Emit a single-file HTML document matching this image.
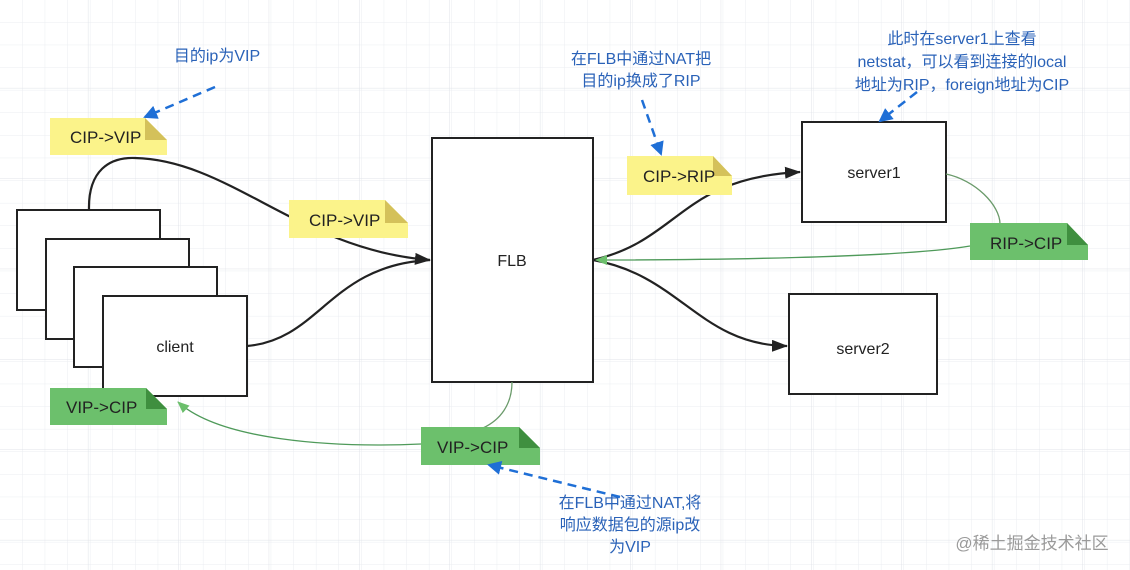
<!DOCTYPE html>
<html><head><meta charset="utf-8"><style>
html,body{margin:0;padding:0;background:#fff}
svg{display:block}
text{font-family:"Liberation Sans","Noto Sans CJK SC",sans-serif}
</style></head><body>
<svg width="1130" height="570" viewBox="0 0 1130 570" xmlns="http://www.w3.org/2000/svg">
<defs>
<pattern id="g" width="22.6" height="22.6" patternUnits="userSpaceOnUse"><path d="M22.6 0V22.6H0" fill="none" stroke="#ebedf1" stroke-width="1"/></pattern>
<pattern id="G" width="90.4" height="90.4" patternUnits="userSpaceOnUse" x="-2" y="-2"><path d="M90.4 0V90.4H0" fill="none" stroke="#e0e3e8" stroke-width="1"/></pattern>
<marker id="ab" markerWidth="16" markerHeight="12" refX="15" refY="6" orient="auto" markerUnits="userSpaceOnUse"><path d="M0 0L16 6L0 12z" fill="#222"/></marker>
<marker id="ag" markerWidth="12" markerHeight="10" refX="11" refY="5" orient="auto" markerUnits="userSpaceOnUse"><path d="M0 0L12 5L0 10z" fill="#6cbf6c"/></marker>
<marker id="au" markerWidth="14" markerHeight="14" refX="12" refY="7" orient="auto" markerUnits="userSpaceOnUse"><path d="M0 0L14 7L0 14z" fill="#1f6fd6"/></marker>
</defs>
<rect width="1130" height="570" fill="url(#g)"/>
<rect width="1130" height="570" fill="url(#G)"/>

<g fill="#fff" stroke="#222" stroke-width="2">
<rect x="17" y="210" width="143" height="100"/>
<rect x="46" y="239" width="143" height="100"/>
<rect x="74" y="267" width="143" height="100"/>
<rect x="103" y="296" width="144" height="100"/>
<rect x="432" y="138" width="161" height="244"/>
<rect x="802" y="122" width="144" height="100"/>
<rect x="789" y="294" width="148" height="100"/>
</g>
<g font-size="16" fill="#222" text-anchor="middle">
<text x="175" y="352">client</text>
<text x="512" y="266">FLB</text>
<text x="874" y="178">server1</text>
<text x="863" y="354">server2</text>
</g>

<g fill="none" stroke="#222" stroke-width="2.2">
<path d="M89 210C88 170 110 157 135 158C230 160 300 250 430 260" marker-end="url(#ab)"/>
<path d="M247 346C320 340 330 265 430 260"/>
<path d="M593 260C680 240 680 178 800 172" marker-end="url(#ab)"/>
<path d="M593 260C680 275 700 345 787 346" marker-end="url(#ab)"/>
</g>
<g fill="none" stroke="#6a9a6a" stroke-width="1.3">
<path d="M946 174C975 180 1000 205 1000 224"/>
<path d="M970 246C900 258 700 260 596 260" stroke="#4f9a5a" marker-end="url(#ag)"/>
<path d="M512 382C512 405 500 420 483 428"/>
<path d="M421 444C330 448 220 440 178 402" stroke="#4f9a5a" marker-end="url(#ag)"/>
</g>

<g font-size="17" fill="#222">
<g><path d="M50 118H145L167 140V155H50z" fill="#fbf38a"/><path d="M145 118L167 140H145z" fill="#d4c15a"/><text x="70" y="143">CIP-&gt;VIP</text></g>
<g><path d="M289 200H385L408 223V238H289z" fill="#fbf38a"/><path d="M385 200L408 223H385z" fill="#d4c15a"/><text x="309" y="226">CIP-&gt;VIP</text></g>
<g><path d="M627 156H713L732 176V195H627z" fill="#fbf38a"/><path d="M713 156L732 176H713z" fill="#d4c15a"/><text x="643" y="182">CIP-&gt;RIP</text></g>
<g><path d="M970 223H1067L1088 245V260H970z" fill="#6cc06c"/><path d="M1067 223L1088 245H1067z" fill="#3f8f3f"/><text x="990" y="249">RIP-&gt;CIP</text></g>
<g><path d="M50 388H146L167 409V425H50z" fill="#6cc06c"/><path d="M146 388L167 409H146z" fill="#3f8f3f"/><text x="66" y="413">VIP-&gt;CIP</text></g>
<g><path d="M421 427H519L540 448V465H421z" fill="#6cc06c"/><path d="M519 427L540 448H519z" fill="#3f8f3f"/><text x="437" y="453">VIP-&gt;CIP</text></g>
</g>

<g fill="none" stroke="#1f6fd6" stroke-width="2.5" stroke-dasharray="9,6">
<path d="M215 87L145 117" marker-end="url(#au)"/>
<path d="M642 100L661 154" marker-end="url(#au)"/>
<path d="M917 92L880 121" marker-end="url(#au)"/>
<path d="M620 497L489 465" marker-end="url(#au)"/>
</g>
<g font-size="16" fill="#2a62b8" text-anchor="middle">
<text x="217" y="61">目的ip为VIP</text>
<text x="641" y="64">在FLB中通过NAT把</text>
<text x="641" y="86">目的ip换成了RIP</text>
<text x="962" y="44">此时在server1上查看</text>
<text x="962" y="67">netstat，可以看到连接的local</text>
<text x="962" y="90">地址为RIP，foreign地址为CIP</text>
<text x="630" y="508">在FLB中通过NAT,将</text>
<text x="630" y="530">响应数据包的源ip改</text>
<text x="630" y="552">为VIP</text>
</g>
<text x="1032" y="549" font-size="17" fill="#9a9a9a" text-anchor="middle">@稀土掘金技术社区</text>
</svg>
</body></html>
